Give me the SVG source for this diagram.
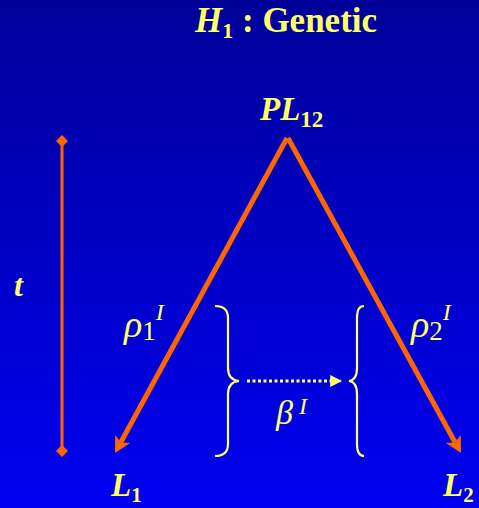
<svg xmlns="http://www.w3.org/2000/svg" width="479" height="508" viewBox="0 0 479 508">
<defs>
<linearGradient id="bg" x1="0" y1="0" x2="0" y2="1">
<stop offset="0" stop-color="#000099"/>
<stop offset="1" stop-color="#0000F2"/>
</linearGradient>
<marker id="dia" viewBox="0 0 10 10" refX="5" refY="5" markerWidth="4" markerHeight="4" orient="auto" markerUnits="strokeWidth">
<path d="M5,0 L10,5 L5,10 L0,5 Z" fill="#FF6600"/>
</marker>
<marker id="ya" viewBox="0 0 10 10" refX="9" refY="5" markerWidth="4" markerHeight="4" orient="auto" markerUnits="strokeWidth">
<path d="M0,0 L10,5 L0,10 Z" fill="#FFFF66"/>
</marker>
<style>
.t{font-family:"Liberation Serif","Times New Roman",serif;fill:#FFFF66;font-weight:bold}
.i{font-style:italic}
.g{font-family:"Liberation Serif","Times New Roman",serif;fill:#FFFF66;font-style:italic}
.br{fill:none;stroke:#FFFF66;stroke-width:2.2}
.ol{stroke:#FF6600;stroke-width:5}
.oh{fill:#FF6600}
</style>
</defs>
<rect width="479" height="508" fill="url(#bg)"/>
<g id="title"><text class="t" x="195" y="32" font-size="35"><tspan class="i">H</tspan><tspan font-size="22" dy="6">1</tspan><tspan dy="-6"> : Genetic</tspan></text></g>
<g id="connectors">
<line class="ol" x1="287" y1="138" x2="120.7" y2="442.5"/>
<polygon class="oh" points="115,453 130.1,443 120.7,442.5 115.2,434.9"/>
<line class="ol" x1="288" y1="138" x2="455.2" y2="442.5"/>
<polygon class="oh" points="461,453 445.9,443.1 455.2,442.5 460.8,434.9"/>
<line x1="62" y1="141" x2="62" y2="451" stroke="#FF6600" stroke-width="3" marker-start="url(#dia)" marker-end="url(#dia)"/>
<line x1="247" y1="381" x2="341" y2="381" stroke="#FFFF66" stroke-width="3" stroke-dasharray="3,2.5" marker-end="url(#ya)"/>
</g>
<g id="PL12"><text class="t i" x="260" y="120" font-size="33">PL<tspan font-size="23" font-style="normal" dy="7">12</tspan></text></g>
<g id="L1"><text class="t i" x="111" y="496" font-size="33">L<tspan font-size="21" font-style="normal" dy="6">1</tspan></text></g>
<g id="L2"><text class="t i" x="443" y="496" font-size="33">L<tspan font-size="21" font-style="normal" dy="6">2</tspan></text></g>
<g id="t"><text class="t i" x="14" y="296" font-size="32">t</text></g>
<g id="rho1"><text class="g" x="124" y="337" font-size="38">ρ<tspan font-style="normal" font-size="27" dy="3">1</tspan><tspan font-size="24" dy="-20">I</tspan></text></g>
<g id="rho2"><text class="g" x="411" y="337" font-size="38">ρ<tspan font-style="normal" font-size="27" dy="3">2</tspan><tspan font-size="24" dy="-20">I</tspan></text></g>
<g id="beta"><text class="g" x="276" y="424" font-size="34">β<tspan font-size="24" dy="-10"> I</tspan></text></g>
<g id="braceL"><path class="br" d="M215,306 Q228,306 228,318 L228,368 Q228,380 239,381 Q228,382 228,394 L228,444 Q228,456 215,456"/></g>
<g id="braceR"><path class="br" d="M364,306 Q357,306 357,318 L357,368 Q357,380 349,381 Q357,382 357,394 L357,444 Q357,456 364,456"/></g>
</svg>
